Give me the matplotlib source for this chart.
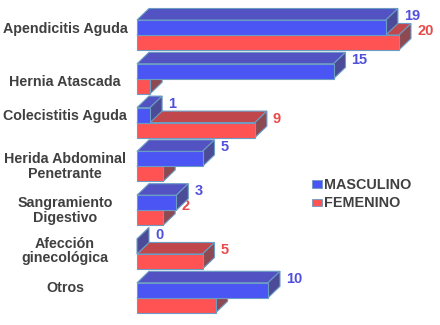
import matplotlib
matplotlib.use("Agg")
import matplotlib.pyplot as plt
from matplotlib.patches import Polygon, Patch

categories = ["Apendicitis Aguda", "Hernia Atascada", "Colecistitis Aguda",
              "Herida Abdominal\nPenetrante", "Sangramiento\nDigestivo",
              "Afección\nginecológica", "Otros"]
masculino = [19, 15, 1, 5, 3, 0, 10]
femenino = [20, 1, 9, 2, 2, 5, 6]
series_names = ["MASCULINO", "FEMENINO"]

# layout: vertical offsets (pixels) of each category label
label_dy_px = [-6, 3, -7, 0, 0, -3, -10]

W, H = 440, 325
PX_PER_UNIT = 13.1
X0 = 137
Y0 = 35
ROW = 43.8

fig = plt.figure(figsize=(W / 100, H / 100), dpi=100)
ax = fig.add_axes([0, 0, 1, 1])
ax.set_xlim(-X0 / PX_PER_UNIT, (W - X0) / PX_PER_UNIT)
ax.set_ylim((H - Y0) / ROW, -Y0 / ROW)
ax.axis("off")

bh = 15 / ROW          # bar thickness (y units)
dx = 12 / PX_PER_UNIT  # depth in x
dy = 11.5 / ROW        # depth in y (upwards = negative)
edge = "#6a9cc4"

styles = {
    "m": dict(front="#4b55f3", top="#5252c2", side="#4b4b98", text="#5050dc"),
    "f": dict(front="#ff5252", top="#c0484c", side="#8e4a52", text="#e84a4a"),
}


def bar3d(x, ytop, st, z):
    ybot = ytop + bh
    ax.add_patch(Polygon([(0, ytop), (x, ytop), (x + dx, ytop - dy), (dx, ytop - dy)],
                         closed=True, fc=st["top"], ec=edge, lw=0.8, zorder=z))
    ax.add_patch(Polygon([(x, ytop), (x, ybot), (x + dx, ybot - dy), (x + dx, ytop - dy)],
                         closed=True, fc=st["side"], ec=edge, lw=0.8, zorder=z))
    if x > 0:
        ax.add_patch(Polygon([(0, ytop), (x, ytop), (x, ybot), (0, ybot)],
                             closed=True, fc=st["front"], ec=edge, lw=0.8, zorder=z + 0.5))


for i, (m, f) in enumerate(zip(masculino, femenino)):
    z = 2 + i * 2
    bar3d(f, i, styles["f"], z)
    bar3d(m, i - bh, styles["m"], z + 1)
    ax.text(f + dx + 6 / PX_PER_UNIT, i - 4 / ROW, str(f), color=styles["f"]["text"],
            fontsize=10.5, fontweight="bold", family="Liberation Sans",
            ha="left", va="center", zorder=1)
    ax.text(m + dx + 6 / PX_PER_UNIT, i - bh - 4 / ROW, str(m), color=styles["m"]["text"],
            fontsize=10.5, fontweight="bold", family="Liberation Sans",
            ha="left", va="center", zorder=30)
    ax.text(-72 / PX_PER_UNIT, i + label_dy_px[i] / ROW, categories[i], color="#404040",
            fontsize=10.3, fontweight="bold", family="Liberation Sans",
            ha="center", va="center", linespacing=1.08, zorder=30)

handles = [Patch(fc=styles["m"]["front"], ec=edge, lw=0.6),
           Patch(fc=styles["f"]["front"], ec=edge, lw=0.6)]
leg = ax.legend(handles, series_names, loc="upper left",
                bbox_to_anchor=(302 / W, 1 - 168 / H), frameon=False,
                handlelength=0.65, handleheight=0.4, handletextpad=0.15,
                labelspacing=0.3, borderpad=0.2,
                prop=dict(family="Liberation Sans", weight="bold", size=10.4))
for t in leg.get_texts():
    t.set_color("#404040")

fig.savefig("out.png", dpi=100)
